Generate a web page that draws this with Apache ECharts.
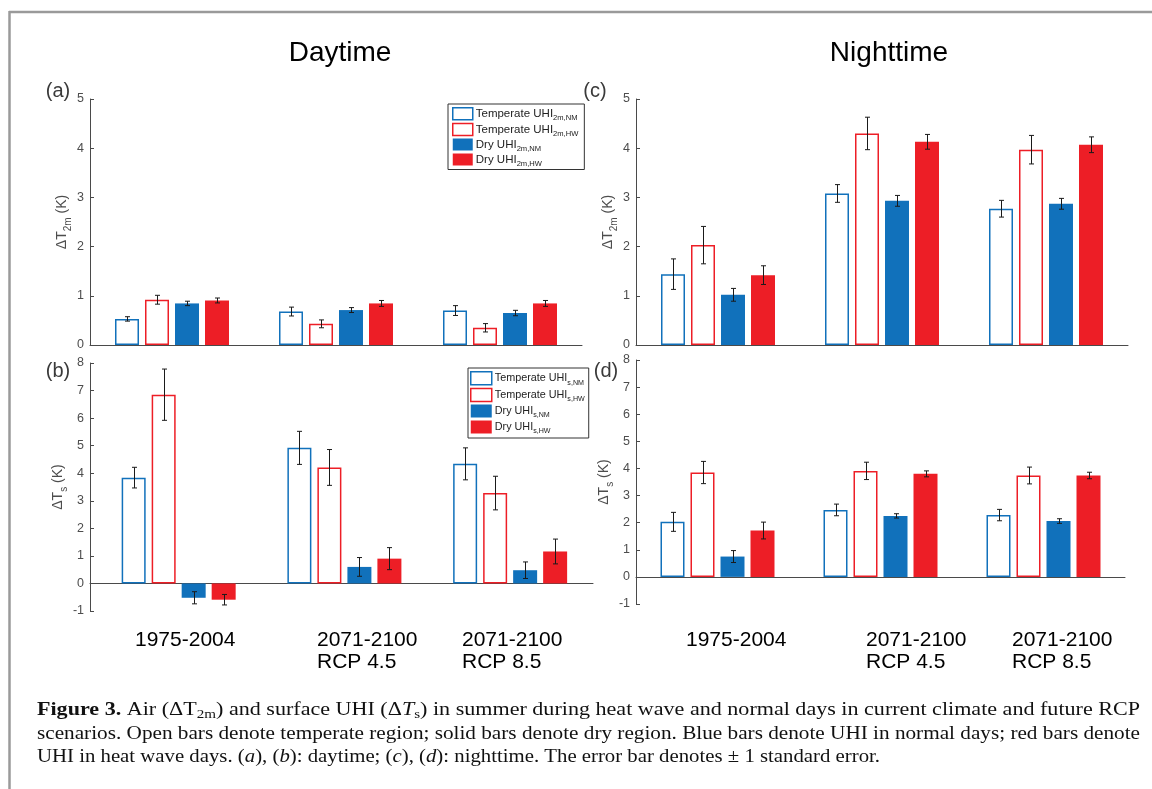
<!DOCTYPE html>
<html><head><meta charset="utf-8">
<script src="https://cdn.jsdelivr.net/npm/echarts@6/dist/echarts.min.js"></script>
<style>html,body{margin:0;padding:0;background:#fff}#c{width:1152px;height:789px}</style>
</head><body><div id="c"></div>
<script>
// ---------------- data ----------------
const groups = ['1975-2004', '2071-2100\nRCP 4.5', '2071-2100\nRCP 8.5'];
const groupX = [1, 2, 3];

// (a) daytime, air (ΔT2m)
const aTempNM = [0.53, 0.68, 0.70],  aTempNMErr = [0.045, 0.09, 0.10];
const aTempHW = [0.92, 0.43, 0.35],  aTempHWErr = [0.09, 0.08, 0.085];
const aDryNM  = [0.845, 0.71, 0.65], aDryNMErr  = [0.045, 0.05, 0.055];
const aDryHW  = [0.905, 0.845, 0.845], aDryHWErr = [0.05, 0.06, 0.06];
// (b) daytime, surface (ΔTs)
const bTempNM = [3.84, 4.92, 4.34],  bTempNMErr = [0.375, 0.60, 0.58];
const bTempHW = [6.85, 4.21, 3.28],  bTempHWErr = [0.93, 0.65, 0.61];
const bDryNM  = [-0.52, 0.60, 0.48], bDryNMErr  = [0.22, 0.34, 0.30];
const bDryHW  = [-0.59, 0.90, 1.16], bDryHWErr  = [0.19, 0.40, 0.45];
// (c) nighttime, air
const cTempNM = [1.44, 3.08, 2.77],  cTempNMErr = [0.31, 0.18, 0.17];
const cTempHW = [2.03, 4.30, 3.97],  cTempHWErr = [0.38, 0.33, 0.29];
const cDryNM  = [1.02, 2.93, 2.87],  cDryNMErr  = [0.13, 0.11, 0.11];
const cDryHW  = [1.42, 4.13, 4.07],  cDryHWErr  = [0.19, 0.15, 0.16];
// (d) nighttime, surface
const dTempNM = [2.03, 2.47, 2.28],  dTempNMErr = [0.35, 0.215, 0.21];
const dTempHW = [3.85, 3.91, 3.74],  dTempHWErr = [0.41, 0.32, 0.31];
const dDryNM  = [0.75, 2.25, 2.06],  dDryNMErr  = [0.22, 0.08, 0.085];
const dDryHW  = [1.71, 3.80, 3.74],  dDryHWErr  = [0.31, 0.11, 0.12];

const airTicks = [0, 5, 1];      // min, max, interval
const surfTicks = [-1, 8, 1];

// ---------------- styling ----------------
const BLUE = '#1171BB', RED = '#ED1E26';
const BAR_W = 24, GAP_RATIO = 0.25, CAP = 2.5;
const SANS = '"Liberation Sans", Arial, sans-serif';
const SERIF = '"Liberation Serif", "Times New Roman", serif';
const AX = '#4a4a4a';

const panels = [
  {key:'a', vals:[aTempNM,aTempHW,aDryNM,aDryHW], errs:[aTempNMErr,aTempHWErr,aDryNMErr,aDryHWErr], ticks:airTicks, sub:'2m',
   grid:{left:90, top:99, width:492, height:246}, xr:[0.5,3.5], nameGap:13},
  {key:'b', vals:[bTempNM,bTempHW,bDryNM,bDryHW], errs:[bTempNMErr,bTempHWErr,bDryNMErr,bDryHWErr], ticks:surfTicks, sub:'s',
   grid:{left:90, top:363, width:503, height:248}, xr:[0.465,3.5], nameGap:13},
  {key:'c', vals:[cTempNM,cTempHW,cDryNM,cDryHW], errs:[cTempNMErr,cTempHWErr,cDryNMErr,cDryHWErr], ticks:airTicks, sub:'2m',
   grid:{left:636, top:99, width:492, height:246}, xr:[0.5,3.5], nameGap:15},
  {key:'d', vals:[dTempNM,dTempHW,dDryNM,dDryHW], errs:[dTempNMErr,dTempHWErr,dDryNMErr,dDryHWErr], ticks:surfTicks, sub:'s',
   grid:{left:636, top:360, width:489, height:244}, xr:[0.5,3.5], nameGap:20}
];
const kinds = ['TNM','THW','DNM','DHW'];
function kindStyle(k){
  const col = (k % 2 === 0) ? BLUE : RED;
  return k < 2 ? {color:'#fff', borderColor:col, borderWidth:1.5} : {color:col, borderColor:col, borderWidth:0};
}

function renderErr(params, api){
  const x = api.value(0), v = api.value(1), e = api.value(2), k = api.value(3);
  const off = (k - 1.5) * BAR_W * (1 + GAP_RATIO);
  const t = api.coord([x, v + e]), b = api.coord([x, v - e]);
  const cx = Math.round(t[0] + off) + 0.5;
  const st = {stroke:'#1a1a1a', lineWidth:1};
  return {type:'group', children:[
    {type:'line', shape:{x1:cx, y1:t[1], x2:cx, y2:b[1]}, style:st},
    {type:'line', shape:{x1:cx-CAP, y1:t[1], x2:cx+CAP, y2:t[1]}, style:st},
    {type:'line', shape:{x1:cx-CAP, y1:b[1], x2:cx+CAP, y2:b[1]}, style:st}
  ]};
}

const grids = [], xAxes = [], yAxes = [], series = [];
panels.forEach((p, pi) => {
  grids.push(Object.assign({outerBoundsMode:'none', containLabel:false}, p.grid));
  xAxes.push({type:'value', gridIndex:pi, min:p.xr[0], max:p.xr[1],
    axisLine:{show:true, onZero:true, lineStyle:{color:AX, width:1}},
    axisTick:{show:false}, axisLabel:{show:false}, splitLine:{show:false}});
  yAxes.push({type:'value', gridIndex:pi, min:p.ticks[0], max:p.ticks[1], interval:p.ticks[2],
    axisLine:{show:true, lineStyle:{color:AX, width:1}},
    axisTick:{show:true, inside:true, length:4, lineStyle:{color:AX}},
    axisLabel:{color:'#4d4d4d', fontSize:12.5, fontFamily:SANS, margin:6},
    splitLine:{show:false},
    name:'{m|ΔT}{s|' + p.sub + '}{m| (K)}', nameLocation:'middle', nameRotate:90, nameGap:p.nameGap,
    nameTextStyle:{rich:{
      m:{fontSize:14, fontFamily:SANS, color:'#4d4d4d', lineHeight:22},
      s:{fontSize:10, fontFamily:SANS, color:'#4d4d4d', lineHeight:10, verticalAlign:'bottom'}}}});
  kinds.forEach((kn, k) => {
    series.push({type:'bar', name:p.key + kn, xAxisIndex:pi, yAxisIndex:pi,
      barWidth:BAR_W, barGap:(GAP_RATIO*100)+'%',
      data:groupX.map((x, i) => [x, p.vals[k][i]]),
      itemStyle:kindStyle(k), emphasis:{disabled:true}, silent:true, animation:false});
  });
  const ed = [];
  kinds.forEach((kn, k) => groupX.forEach((x, i) => ed.push([x, p.vals[k][i], p.errs[k][i], k])));
  series.push({type:'custom', xAxisIndex:pi, yAxisIndex:pi, renderItem:renderErr, data:ed, z:10, silent:true, animation:false});
});

const legLabels = {
  TNM:['Temperate UHI','NM'], THW:['Temperate UHI','HW'], DNM:['Dry UHI','NM'], DHW:['Dry UHI','HW']
};
function makeLegend(pk, sub, pos, fs, iw, ih, gap, pad){
  return Object.assign({
    orient:'vertical', selectedMode:false, itemWidth:iw, itemHeight:ih, itemGap:gap,
    padding:pad, borderColor:'#333', borderWidth:1, backgroundColor:'#fff',
    data:kinds.map((kn, k) => ({name:pk + kn, icon:'rect', itemStyle:kindStyle(k)})),
    formatter:function(name){ const l = legLabels[name.slice(1)]; return '{t|' + l[0] + '}{s|' + sub + ',' + l[1] + '}'; },
    textStyle:{fontFamily:SANS, color:'#222', padding:[0,0,0,-2], rich:{
      t:{fontSize:fs, fontFamily:SANS, color:'#222', lineHeight:16},
      s:{fontSize:fs*0.66, fontFamily:SANS, color:'#222', lineHeight:fs*0.66, verticalAlign:'bottom'}}}
  }, pos);
}

// ---------------- texts ----------------
function txt(text, x, y, size, align, fill){
  return {type:'text', x:x, y:y, silent:true, style:{text:text, fill:fill||'#3a3a3a',
    font:size + 'px ' + SANS, textAlign:align||'left', align:align||'left',
    textVerticalAlign:'middle', verticalAlign:'middle'}};
}
const graphics = [
  {type:'line', shape:{x1:9, y1:12, x2:1152, y2:12}, style:{stroke:'#9a9a9a', lineWidth:2.5}, silent:true},
  {type:'line', shape:{x1:9.5, y1:11, x2:9.5, y2:789}, style:{stroke:'#9a9a9a', lineWidth:2.5}, silent:true},
  txt('Daytime', 340, 53, 28, 'center', '#000'),
  txt('Nighttime', 889, 53, 28, 'center', '#000'),
  txt('(a)', 58, 91, 20, 'center'),
  txt('(b)', 58, 371, 20, 'center'),
  txt('(c)', 595, 91, 20, 'center'),
  txt('(d)', 606, 371, 20, 'center')
];

// category labels below the panels
const catLeft = [[135, 317, 462], [686, 866, 1012]];
catLeft.forEach(row => row.forEach((x, i) => {
  graphics.push({type:'text', x:x, y:629, silent:true, style:{text:groups[i], fill:'#000',
    font:'21px ' + SANS, lineHeight:22, textAlign:'left', align:'left', textVerticalAlign:'top', verticalAlign:'top'}});
}));

// caption (justified by horizontal scaling of each line)
const capLines = [
  [['b','Figure 3.'],['n',' Air (ΔT'],['s','2m'],['n',') and surface UHI (Δ'],['i','T'],['s','s'],['n',') in summer during heat wave and normal days in current climate and future RCP']],
  [['n','scenarios. Open bars denote temperate region; solid bars denote dry region. Blue bars denote UHI in normal days; red bars denote']],
  [['n','UHI in heat wave days. ('],['i','a'],['n','), ('],['i','b'],['n','): daytime; ('],['i','c'],['n','), ('],['i','d'],['n','): nighttime. The error bar denotes ± 1 standard error.']]
];
const CAP_FS = 19, CAP_SUB = 13;
const capRich = {
  n:{fontSize:CAP_FS, fontFamily:SERIF, fill:'#111', lineHeight:22},
  b:{fontSize:CAP_FS, fontFamily:SERIF, fill:'#111', lineHeight:22, fontWeight:'bold'},
  i:{fontSize:CAP_FS, fontFamily:SERIF, fill:'#111', lineHeight:22, fontStyle:'italic'},
  s:{fontSize:CAP_SUB, fontFamily:SERIF, fill:'#111', lineHeight:CAP_SUB, verticalAlign:'bottom'}
};
const mctx = document.createElement('canvas').getContext('2d');
function segFont(k){
  if (k === 'b') return 'bold ' + CAP_FS + 'px ' + SERIF;
  if (k === 'i') return 'italic ' + CAP_FS + 'px ' + SERIF;
  if (k === 's') return CAP_SUB + 'px ' + SERIF;
  return CAP_FS + 'px ' + SERIF;
}
const CAP_X = 37, capW = [1103, 1103, 843], capY = [710, 734, 757];
capLines.forEach((segs, li) => {
  let w = 0;
  segs.forEach(s => { mctx.font = segFont(s[0]); w += mctx.measureText(s[1]).width; });
  const sx = capW[li] / w;
  graphics.push({type:'text', x:CAP_X, y:capY[li], scaleX:sx, silent:true, style:{
    text:segs.map(s => '{' + s[0] + '|' + s[1] + '}').join(''), rich:capRich,
    textAlign:'left', align:'left', textVerticalAlign:'middle', verticalAlign:'middle'}});
});

const chart = echarts.init(document.getElementById('c'), null, {renderer:'canvas'});
chart.setOption({
  backgroundColor:'#fff', animation:false,
  grid:grids, xAxis:xAxes, yAxis:yAxes, series:series,
  legend:[
    makeLegend('a', '2m', {left:448, top:104}, 11.5, 20, 12, 1, [3,6,2,4]),
    makeLegend('b', 's', {left:468, top:368}, 10.8, 21, 13, 1.5, [3,4,3,2])
  ],
  graphic:{elements:graphics}
});
</script></body></html>
